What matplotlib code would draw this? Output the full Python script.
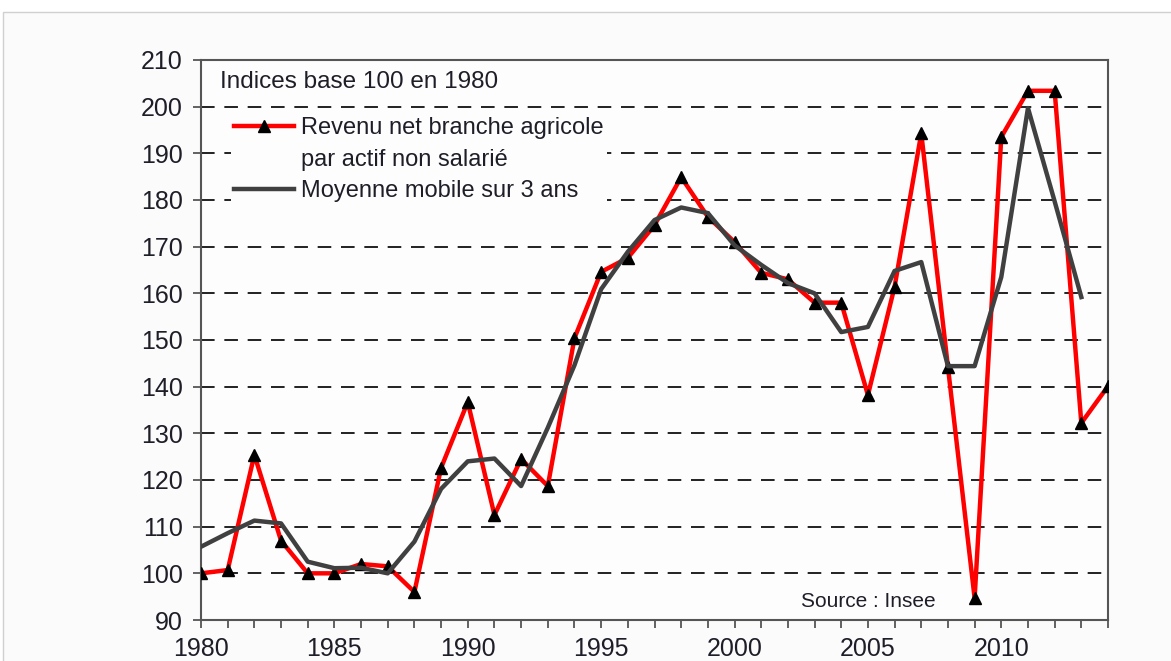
import matplotlib.pyplot as plt
from matplotlib.patches import Rectangle
from matplotlib.lines import Line2D

plt.rcParams['font.family'] = ['Liberation Sans', 'DejaVu Sans']

# Revenu net branche agricole par actif non salarié (indice base 100 en 1980)
years = list(range(1980, 2015))
revenu = [100, 100.7, 125.4, 107, 100, 100, 102, 101.5, 96, 122.6,
          136.7, 112.5, 124.5, 118.7, 150.4, 164.6, 167.6, 174.6, 184.9, 176.4,
          171, 164.4, 163, 158, 158, 138.2, 161.4, 194.3, 144.2, 94.7,
          193.5, 203.4, 203.4, 132.2, 140.1]

# Moyenne mobile sur 3 ans
years_mm = list(range(1980, 2014))
moyenne = [105.7, 108.6, 111.3, 110.7, 102.5, 101.1, 101.2, 100, 106.8, 118.1,
           124, 124.6, 118.7, 131.2, 144.6, 160.9, 168.9, 175.7, 178.4, 177.2,
           170.3, 166.1, 162.2, 160, 151.7, 152.8, 164.8, 166.7, 144.4, 144.4,
           163.5, 199.7, 179.7, 159.2]

yticks = list(range(90, 211, 10))
xticks = list(range(1980, 2015, 5))

red = '#ff0000'
grey = '#404040'
txt = '#1e1e28'

fig = plt.figure(figsize=(11.71, 6.61), dpi=100)
fig.patch.set_facecolor('white')
# light frame of the original screenshot
fig.patches.append(Rectangle((3 / 1171, -0.1), 1.2, 1 - 12 / 661 + 0.1,
                             transform=fig.transFigure, facecolor='#fbfbfb',
                             edgecolor='#d0d0d0', linewidth=1, zorder=-10))

ax = fig.add_axes([201 / 1171, 1 - 620 / 661, (1108 - 201) / 1171, (620 - 60) / 661])
ax.set_facecolor('#fdfdfd')

ax.plot(years, revenu, color=red, linewidth=3.2, marker='^', markersize=9,
        markerfacecolor='black', markeredgecolor='black', zorder=3)
ax.plot(years_mm, moyenne, color=grey, linewidth=3.2, zorder=4)

ax.set_xlim(1980, 2014)
ax.set_ylim(90, 210)
ax.set_yticks(yticks)
ax.set_xticks(xticks)
ax.set_xticks(years, minor=True)

for y in yticks[1:-1]:
    ax.axhline(y, color='#222222', linewidth=1.4, dashes=(7, 5), zorder=1)

for s in ax.spines.values():
    s.set_color('#555555')
    s.set_linewidth(1.5)

ax.tick_params(axis='both', which='both', direction='out', length=6, width=1.3,
               color='#555555', labelsize=18, labelcolor=txt)
ax.tick_params(axis='y', pad=7)
ax.tick_params(axis='x', pad=6)

ax.text(0.021, 0.98, 'Indices base 100 en 1980', transform=ax.transAxes,
        fontsize=17.5, color=txt, va='top', ha='left')
ax.text(2005, 94, 'Source : Insee', fontsize=15, color=txt,
        ha='center', va='center')

handles = [
    Line2D([], [], color=red, linewidth=3.2, marker='^', markersize=9,
           markerfacecolor='black', markeredgecolor='black'),
    Line2D([], [], color='none'),
    Line2D([], [], color=grey, linewidth=3.2),
]
labels = ['Revenu net branche agricole', 'par actif non salarié',
          'Moyenne mobile sur 3 ans']
leg = ax.legend(handles, labels, loc='upper left', bbox_to_anchor=(0.02, 0.925),
                fontsize=17, frameon=True, framealpha=1, facecolor='#fdfdfd',
                edgecolor='none', handlelength=2.5, handletextpad=0.3,
                labelspacing=0.4, borderpad=0.15, fancybox=False)
for t in leg.get_texts():
    t.set_color(txt)
leg.set_zorder(5)

fig.savefig('out.png', dpi=100)
